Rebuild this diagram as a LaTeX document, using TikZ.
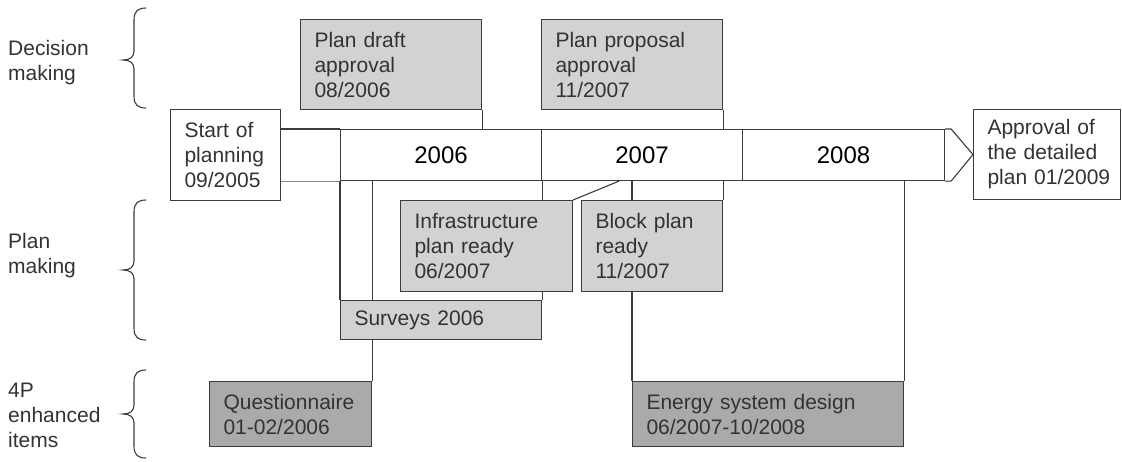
\documentclass[tikz,border=0pt]{standalone}
\usepackage{fontspec}
\setmainfont{Liberation Sans}
\usetikzlibrary{backgrounds}
\definecolor{linec}{HTML}{3C3C3C}
\definecolor{textc}{HTML}{333333}
\definecolor{lightfill}{HTML}{D1D2D4}
\definecolor{darkfill}{HTML}{A9AAAC}
\definecolor{paleline}{HTML}{8A8A8A}
\begin{document}
\begin{tikzpicture}[x=1pt,y=-1pt,
  txt/.style={font=\fontsize{21}{25}\selectfont, text=textc},
  box/.style={txt, draw=linec, line width=1.1pt, align=left, inner xsep=14pt, inner ysep=0pt, anchor=north west},
  whitebox/.style={box, fill=white},
  lightbox/.style={box, fill=lightfill},
  darkbox/.style={box, fill=darkfill},
  yearcell/.style={draw=linec, line width=1.1pt, fill=white, anchor=north west, inner sep=0pt,
    minimum width=#1, minimum height=51pt, font=\fontsize{24}{28}\selectfont, text=black},
  conn/.style={draw=linec, line width=1.1pt},
  paleconn/.style={draw=paleline, line width=1.1pt},
  bracec/.style={draw=linec, line width=1.1pt},
  sidelabel/.style={txt, align=left, anchor=west, inner sep=0pt}
]
\useasboundingbox (0,0) rectangle (1122,461);

% side labels
\node[sidelabel] (ldec) at (8,63) {Decision\\making};
\node[sidelabel] (lplan) at (8,256) {Plan\\making};
\node[sidelabel] (l4p) at (8,415) {4P\\enhanced\\items};

% braces
\foreach \ya/\ym/\yb in {8/60/108, 200/270/340, 370/414/458}{
  \draw[bracec] (146,\ya) .. controls (138,\ya) and (134,\ya+3) .. (134,\ya+12)
    -- (134,\ym-9) .. controls (134,\ym-3) and (130,\ym) .. (123,\ym)
    .. controls (130,\ym) and (134,\ym+3) .. (134,\ym+9)
    -- (134,\yb-12) .. controls (134,\yb-3) and (138,\yb) .. (146,\yb);
}

% timeline bar
\node[yearcell=201pt] (y2006) at (340,129) {2006};
\node[yearcell=201pt] (y2007) at (541,129) {2007};
\node[yearcell=202pt] (y2008) at (742,129) {2008};

% milestone and task boxes
\node[whitebox, text width=82pt, minimum height=91pt] (start) at (170,109) {Start of\\planning\\09/2005};
\node[whitebox, inner xsep=0pt, text width=147pt, minimum height=90pt] (appr) at (973,109)
  {\hspace*{14pt}Approval of\\\hspace*{14pt}the detailed\\\hspace*{14pt}plan 01/2009};
\node[lightbox, text width=153pt, minimum height=90pt] (pd) at (300,19) {Plan draft\\approval\\08/2006};
\node[lightbox, text width=153pt, minimum height=90pt] (pp) at (541,19) {Plan proposal\\approval\\11/2007};
\node[lightbox, text width=144pt, minimum height=91pt] (inf) at (400,200) {Infrastructure\\plan ready\\06/2007};
\node[lightbox, text width=113pt, minimum height=91pt] (bp) at (581,200) {Block plan\\ready\\11/2007};
\node[lightbox, text width=173pt, minimum height=39pt] (sv) at (340,300) {Surveys 2006};
\node[darkbox, text width=134pt, minimum height=65pt] (q) at (209,381) {Questionnaire\\01-02/2006};
\node[darkbox, text width=243pt, minimum height=65pt] (en) at (632,381) {Energy system design\\06/2007-10/2008};

% arrow head of the bar
\coordinate (tipA) at ([xshift=6pt]y2008.north east);
\coordinate (tipB) at ([xshift=6pt]y2008.south east);
\draw[conn, line join=miter] (y2008.north east) -- (tipA) -- (appr.west) -- (tipB) -- (y2008.south east);

% connectors
\begin{scope}[on background layer]
  \draw[conn] (y2006.north west) -- (y2006.north west -| start.east);
  \draw[paleconn] (y2006.south west) -- (y2006.south west -| start.east);
  \draw[conn] (pd.south east) -- (pd.south east |- y2006.north);
  \draw[conn] (pp.south east) -- (pp.south east |- y2007.north);
  \draw[conn] (sv.north west) -- (sv.north west |- y2006.south);
  \draw[conn] (sv.north east) -- (sv.north east |- y2006.south);
  \draw[conn] (q.north east) -- (q.north east |- y2006.south);
  \draw[conn] (inf.north east) -- ([xshift=78pt]y2007.south west);
  \draw[conn] (bp.north east) -- (bp.north east |- y2007.south);
  \draw[conn] (en.north west) -- (en.north west |- y2007.south);
  \draw[conn] (en.north east) -- (en.north east |- y2008.south);
\end{scope}
\end{tikzpicture}
\end{document}
